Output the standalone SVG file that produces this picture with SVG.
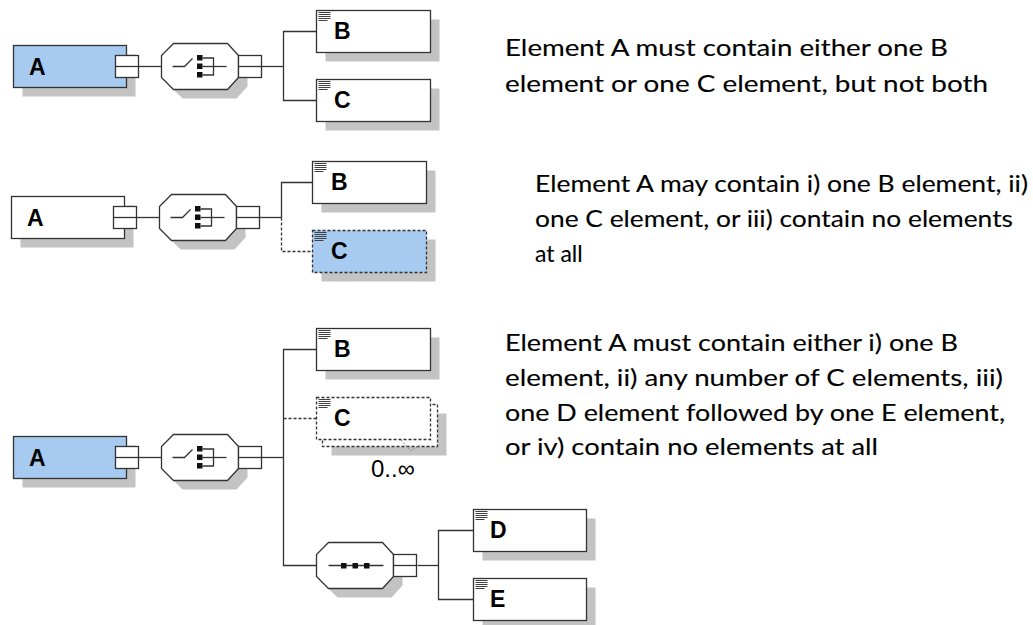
<svg xmlns="http://www.w3.org/2000/svg" xmlns:xlink="http://www.w3.org/1999/xlink" width="1033" height="625" viewBox="0 0 1033 625">
  <style>
    .box { fill: #ffffff; stroke: #333333; stroke-width: 1.3; }
    .sel { fill: #a6caf0; }
    .dash { stroke-dasharray: 3 2; }
    .shadow { fill: #c3c3c3; stroke: none; }
    .wire { fill: none; stroke: #333333; stroke-width: 1.3; }
    .ico { fill: none; stroke: #333333; stroke-width: 1.3; }
    .dot { fill: #111111; stroke: none; }
    .doc { stroke: #404040; stroke-width: 1; }
    .lbl { font-family: "Liberation Sans", Arial, sans-serif; font-weight: bold; font-size: 23px; fill: #000000; }
    .note { font-family: Lato, "Open Sans", sans-serif; font-size: 23px; fill: #000000; stroke: #000000; stroke-width: 0.12; }
    .occ { font-family: "Liberation Sans", Arial, sans-serif; font-size: 24px; fill: #000000; }
  </style>
  <defs>
    <!-- documentation marker: a stack of short rules in the top-left corner -->
    <g id="docmark">
      <line class="doc" x1="2" y1="2" x2="14" y2="2"/>
      <line class="doc" x1="2" y1="4" x2="14" y2="4"/>
      <line class="doc" x1="2" y1="6" x2="14" y2="6"/>
      <line class="doc" x1="2" y1="8" x2="14" y2="8"/>
      <line class="doc" x1="2" y1="10" x2="11" y2="10"/>
    </g>
    <!-- expand box on the right side of a node -->
    <g id="expander">
      <rect class="box" x="0" y="0" width="23" height="22"/>
      <line class="wire" x1="0" y1="11" x2="23" y2="11"/>
    </g>
    <!-- octagonal compositor outline -->
    <polygon id="octa-shadow" class="shadow" points="21,9 75,9 86,21 86,43 75,55 21,55 9,43 9,21"/>
    <polygon id="octa" class="box" points="12,0 66,0 77,12 77,34 66,46 12,46 0,34 0,12"/>
    <!-- choice compositor: octagon with switch icon and expander -->
    <g id="choice">
      <use xlink:href="#octa-shadow"/>
      <use xlink:href="#octa"/>
      <polyline class="ico" points="11,23 23,23 31,15"/>
      <rect class="dot" x="35.5" y="11.5" width="5.5" height="5.5"/>
      <rect class="dot" x="35.5" y="20" width="5.5" height="5.5"/>
      <rect class="dot" x="35.5" y="28.5" width="5.5" height="5.5"/>
      <polyline class="ico" points="41,14.5 52,14.5 52,31.5 41,31.5"/>
      <line class="ico" x1="41" y1="23" x2="65" y2="23"/>
      <use xlink:href="#expander" x="77" y="12"/>
    </g>
    <!-- sequence compositor: octagon with three dots on a line and expander -->
    <g id="sequence">
      <use xlink:href="#octa-shadow"/>
      <use xlink:href="#octa"/>
      <line class="ico" x1="12" y1="23" x2="67" y2="23"/>
      <rect class="dot" x="24.5" y="20.5" width="5.5" height="5.5"/>
      <rect class="dot" x="36" y="20.5" width="5.5" height="5.5"/>
      <rect class="dot" x="47.5" y="20.5" width="5.5" height="5.5"/>
      <use xlink:href="#expander" x="77" y="12"/>
    </g>
  </defs>

  <!-- connectors -->
  <g id="connectors">
    <!-- row 1 -->
    <line class="wire" x1="137.5" y1="66.5" x2="161.5" y2="66.5"/>
    <line class="wire" x1="261.5" y1="66.5" x2="283.5" y2="66.5"/>
    <polyline class="wire" points="316.5,31.5 283.5,31.5 283.5,100.5 316.5,100.5"/>
    <!-- row 2 -->
    <line class="wire" x1="135.5" y1="217.5" x2="159.5" y2="217.5"/>
    <line class="wire" x1="259.5" y1="217.5" x2="281.5" y2="217.5"/>
    <polyline class="wire" points="312.5,182.5 281.5,182.5 281.5,217.5"/>
    <polyline class="wire dash" points="281.5,217.5 281.5,251.5 312.5,251.5"/>
    <!-- row 3 -->
    <line class="wire" x1="137.5" y1="457.5" x2="161.5" y2="457.5"/>
    <line class="wire" x1="261.5" y1="457.5" x2="283.5" y2="457.5"/>
    <polyline class="wire" points="316.5,349.5 283.5,349.5 283.5,565.5 316.5,565.5"/>
    <line class="wire dash" x1="283.5" y1="418.5" x2="316.5" y2="418.5"/>
    <line class="wire" x1="417.5" y1="565.5" x2="438.5" y2="565.5"/>
    <polyline class="wire" points="473.5,530.5 438.5,530.5 438.5,599.5 473.5,599.5"/>
  </g>

  <!-- row 1: choice of B or C -->
  <g id="a1">
    <rect class="shadow" x="22.5" y="54.5" width="113" height="42"/>
    <rect class="box sel" x="13.5" y="45.5" width="113" height="42"/>
    <use xlink:href="#expander" x="115.5" y="55.5"/>
    <text class="lbl" x="29" y="75">A</text>
  </g>
  <g id="choice1">
    <use xlink:href="#choice" x="161.5" y="43.5"/>
  </g>
  <g id="b1">
    <rect class="shadow" x="325.5" y="19.5" width="114" height="42"/>
    <rect class="box" x="316.5" y="10.5" width="114" height="42"/>
    <use xlink:href="#docmark" x="316.5" y="10.5"/>
    <text class="lbl" x="334" y="39">B</text>
  </g>
  <g id="c1">
    <rect class="shadow" x="325.5" y="88.5" width="114" height="42"/>
    <rect class="box" x="316.5" y="79.5" width="114" height="42"/>
    <use xlink:href="#docmark" x="316.5" y="79.5"/>
    <text class="lbl" x="334" y="108">C</text>
  </g>

  <!-- row 2: choice of B or optional C -->
  <g id="a2">
    <rect class="shadow" x="20.5" y="205.5" width="113" height="42"/>
    <rect class="box" x="11.5" y="196.5" width="113" height="42"/>
    <use xlink:href="#expander" x="113.5" y="206.5"/>
    <text class="lbl" x="27" y="226">A</text>
  </g>
  <g id="choice2">
    <use xlink:href="#choice" x="159.5" y="194.5"/>
  </g>
  <g id="b2">
    <rect class="shadow" x="321.5" y="170.5" width="114" height="42"/>
    <rect class="box" x="312.5" y="161.5" width="114" height="42"/>
    <use xlink:href="#docmark" x="312.5" y="161.5"/>
    <text class="lbl" x="331" y="190">B</text>
  </g>
  <g id="c2">
    <rect class="shadow" x="321.5" y="239.5" width="114" height="42"/>
    <rect class="box sel dash" x="312.5" y="230.5" width="114" height="42"/>
    <use xlink:href="#docmark" x="312.5" y="230.5"/>
    <text class="lbl" x="331" y="259">C</text>
  </g>

  <!-- row 3: choice of B, repeated C, or sequence of D and E -->
  <g id="a3">
    <rect class="shadow" x="22.5" y="445.5" width="113" height="42"/>
    <rect class="box sel" x="13.5" y="436.5" width="113" height="42"/>
    <use xlink:href="#expander" x="115.5" y="446.5"/>
    <text class="lbl" x="29" y="466">A</text>
  </g>
  <g id="choice3">
    <use xlink:href="#choice" x="161.5" y="434.5"/>
  </g>
  <g id="b3">
    <rect class="shadow" x="325.5" y="337.5" width="114" height="42"/>
    <rect class="box" x="316.5" y="328.5" width="114" height="42"/>
    <use xlink:href="#docmark" x="316.5" y="328.5"/>
    <text class="lbl" x="334" y="357">B</text>
  </g>
  <g id="c3">
    <rect class="shadow" x="331.5" y="413.5" width="115" height="42"/>
    <rect class="box dash" x="322.5" y="404.5" width="115" height="42"/>
    <polyline fill="none" stroke="#8a8a8a" stroke-width="1" stroke-dasharray="2 1.5" points="401,440 411,451 420,445"/>
    <rect class="box dash" x="316.5" y="397.5" width="114" height="42"/>
    <use xlink:href="#docmark" x="316.5" y="397.5"/>
    <text class="lbl" x="334" y="426">C</text>
    <text class="occ" x="371" y="477">0..∞</text>
  </g>
  <g id="seq3">
    <use xlink:href="#sequence" x="316.5" y="542.5"/>
  </g>
  <g id="d3">
    <rect class="shadow" x="482.5" y="518.5" width="113" height="42"/>
    <rect class="box" x="473.5" y="509.5" width="113" height="42"/>
    <use xlink:href="#docmark" x="473.5" y="509.5"/>
    <text class="lbl" x="490" y="538">D</text>
  </g>
  <g id="e3">
    <rect class="shadow" x="482.5" y="587.5" width="113" height="42"/>
    <rect class="box" x="473.5" y="578.5" width="113" height="42"/>
    <use xlink:href="#docmark" x="473.5" y="578.5"/>
    <text class="lbl" x="490" y="607">E</text>
  </g>

  <!-- explanations -->
  <g id="notes">
    <text class="note" x="505" y="56" textLength="443" lengthAdjust="spacingAndGlyphs">Element A must contain either one B</text>
    <text class="note" x="505" y="92" textLength="483" lengthAdjust="spacingAndGlyphs">element or one C element, but not both</text>
    <text class="note" x="535" y="192" textLength="493" lengthAdjust="spacingAndGlyphs">Element A may contain i) one B element, ii)</text>
    <text class="note" x="535" y="227" textLength="478" lengthAdjust="spacingAndGlyphs">one C element, or iii) contain no elements</text>
    <text class="note" x="535" y="262">at all</text>
    <text class="note" x="505" y="351" textLength="453" lengthAdjust="spacingAndGlyphs">Element A must contain either i) one B</text>
    <text class="note" x="505" y="386" textLength="498" lengthAdjust="spacingAndGlyphs">element, ii) any number of C elements, iii)</text>
    <text class="note" x="505" y="421" textLength="500" lengthAdjust="spacingAndGlyphs">one D element followed by one E element,</text>
    <text class="note" x="505" y="455" textLength="373" lengthAdjust="spacingAndGlyphs">or iv) contain no elements at all</text>
  </g>
</svg>
